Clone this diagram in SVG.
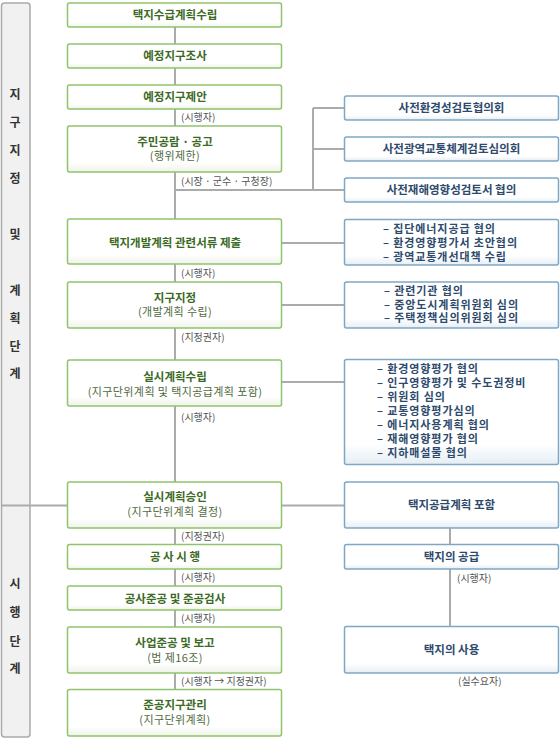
<svg xmlns="http://www.w3.org/2000/svg" width="560" height="740" viewBox="0 0 560 740">
<defs>
<linearGradient id="gg" x1="0" y1="0" x2="0" y2="1"><stop offset="0" stop-color="#ffffff"/><stop offset="0.8" stop-color="#ffffff"/><stop offset="1" stop-color="#eef3e8"/></linearGradient>
<linearGradient id="bg" x1="0" y1="0" x2="0" y2="1"><stop offset="0" stop-color="#ffffff"/><stop offset="0.8" stop-color="#ffffff"/><stop offset="1" stop-color="#e6eef4"/></linearGradient>
</defs>
<style>
text{font-family:"Noto Sans CJK KR","Noto Sans",sans-serif}
.gb{fill:url(#gg);stroke:#91c36c;stroke-width:1.5}
.bb{fill:url(#bg);stroke:#7fa7c3;stroke-width:1.5}
.gt{fill:#3b6a24;font-size:11.5px;font-weight:bold;text-anchor:middle}
.gs{fill:#4f6a40;font-size:11px;letter-spacing:0.4px;text-anchor:middle}
.bt{fill:#2d4a6c;font-size:11.5px;font-weight:bold;text-anchor:middle}
.bl{fill:#2d4a6c;font-size:11px;font-weight:bold;letter-spacing:0.9px}
.lb{fill:#555;font-size:10px}
.side{fill:#333;font-size:12px;font-weight:bold;text-anchor:middle}
.cn{fill:none;stroke:#ababab;stroke-width:2}
</style>
<g id="band">
<rect x="1.5" y="3" width="28.5" height="734" rx="3" fill="#f1f1f1" stroke="#aaaaaa" stroke-width="1.5"/>
<text class="side" x="15" y="99">지</text>
<text class="side" x="15" y="127">구</text>
<text class="side" x="15" y="155">지</text>
<text class="side" x="15" y="183">정</text>
<text class="side" x="15" y="239">및</text>
<text class="side" x="15" y="295">계</text>
<text class="side" x="15" y="323">획</text>
<text class="side" x="15" y="351">단</text>
<text class="side" x="15" y="378">계</text>
<text class="side" x="15" y="588">시</text>
<text class="side" x="15" y="617">행</text>
<text class="side" x="15" y="646">단</text>
<text class="side" x="15" y="673">계</text>
</g>
<g id="connectors">
<path class="cn" d="M175 27V689"/>
<path class="cn" d="M175 190H344M313 108V190M313 108H344M313 149H344"/>
<path class="cn" d="M281 243H344M281 305H344M281 382H344M281 505.5H344M1 505.5H67"/>
<path class="cn" d="M450 528V544M450 569V626"/>
</g>
<g id="n1"><rect class="gb" x="67.5" y="3" width="214" height="24" rx="2"/><text class="gt" x="175" y="19">택지수급계획수립</text></g>
<g id="n2"><rect class="gb" x="67.5" y="44" width="214" height="24" rx="2"/><text class="gt" x="175" y="60">예정지구조사</text></g>
<g id="n3"><rect class="gb" x="67.5" y="85" width="214" height="24" rx="2"/><text class="gt" x="175" y="101">예정지구제안</text></g>
<text class="lb" x="181" y="121">(시행자)</text>
<g id="n4"><rect class="gb" x="67.5" y="126" width="214" height="46" rx="2"/><text class="gt" x="175" y="146">주민공람 · 공고</text><text class="gs" x="175" y="160">(행위제한)</text></g>
<text class="lb" x="181" y="185">(시장 · 군수 · 구청장)</text>
<g id="n5"><rect class="gb" x="67.5" y="219" width="214" height="45" rx="2"/><text class="gt" x="175" y="247">택지개발계획 관련서류 제출</text></g>
<text class="lb" x="181" y="277">(시행자)</text>
<g id="n6"><rect class="gb" x="67.5" y="282" width="214" height="46" rx="2"/><text class="gt" x="175" y="302">지구지정</text><text class="gs" x="175" y="316">(개발계획 수립)</text></g>
<text class="lb" x="181" y="341">(지정권자)</text>
<g id="n7"><rect class="gb" x="67.5" y="360" width="214" height="46" rx="2"/><text class="gt" x="175" y="381">실시계획수립</text><text class="gs" x="175" y="396">(지구단위계획 및 택지공급계획 포함)</text></g>
<text class="lb" x="181" y="421">(시행자)</text>
<g id="n8"><rect class="gb" x="67.5" y="482" width="214" height="46" rx="2"/><text class="gt" x="175" y="501">실시계획승인</text><text class="gs" x="175" y="516">(지구단위계획 결정)</text></g>
<text class="lb" x="181" y="540">(지정권자)</text>
<g id="n9"><rect class="gb" x="67.5" y="544.5" width="214" height="24.5" rx="2"/><text class="gt" x="175" y="561">공 사 시 행</text></g>
<text class="lb" x="181" y="581">(시행자)</text>
<g id="n10"><rect class="gb" x="67.5" y="586" width="214" height="24" rx="2"/><text class="gt" x="175" y="603">공사준공 및 준공검사</text></g>
<text class="lb" x="181" y="622">(시행자)</text>
<g id="n11"><rect class="gb" x="67.5" y="627" width="214" height="46" rx="2"/><text class="gt" x="175" y="647">사업준공 및 보고</text><text class="gs" x="175" y="662">(법 제16조)</text></g>
<text class="lb" x="181" y="685">(시행자 → 지정권자)</text>
<g id="n12"><rect class="gb" x="67.5" y="689.5" width="214" height="46.5" rx="2"/><text class="gt" x="175" y="709">준공지구관리</text><text class="gs" x="175" y="724">(지구단위계획)</text></g>
<g id="r1"><rect class="bb" x="344.5" y="96" width="214" height="24" rx="2"/><text class="bt" x="451.5" y="112">사전환경성검토협의회</text></g>
<g id="r2"><rect class="bb" x="344.5" y="137" width="214" height="24" rx="2"/><text class="bt" x="451.5" y="153">사전광역교통체계검토심의회</text></g>
<g id="r3"><rect class="bb" x="344.5" y="178" width="214" height="24" rx="2"/><text class="bt" x="451.5" y="194">사전재해영향성검토서 협의</text></g>
<g id="r4"><rect class="bb" x="344.5" y="219.5" width="214" height="45.5" rx="2"/>
<text class="bl" x="383" y="233">– 집단에너지공급 협의</text>
<text class="bl" x="383" y="247">– 환경영향평가서 초안협의</text>
<text class="bl" x="383" y="261">– 광역교통개선대책 수립</text></g>
<g id="r5"><rect class="bb" x="344.5" y="282" width="214" height="46" rx="2"/>
<text class="bl" x="384" y="295">– 관련기관 협의</text>
<text class="bl" x="384" y="309">– 중앙도시계획위원회 심의</text>
<text class="bl" x="384" y="322">– 주택정책심의위원회 심의</text></g>
<g id="r6"><rect class="bb" x="344.5" y="359.5" width="214" height="105" rx="2"/>
<text class="bl" x="377" y="373">– 환경영향평가 협의</text>
<text class="bl" x="377" y="387">– 인구영향평가 및 수도권정비</text>
<text class="bl" x="377" y="401">– 위원회 심의</text>
<text class="bl" x="377" y="415">– 교통영향평가심의</text>
<text class="bl" x="377" y="429">– 에너지사용계획 협의</text>
<text class="bl" x="377" y="443">– 재해영향평가 협의</text>
<text class="bl" x="377" y="457">– 지하매설물 협의</text></g>
<g id="r7"><rect class="bb" x="344.5" y="482" width="214" height="46" rx="2"/><text class="bt" x="451.5" y="509">택지공급계획 포함</text></g>
<g id="r8"><rect class="bb" x="344.5" y="544.5" width="214" height="24.5" rx="2"/><text class="bt" x="451.5" y="561">택지의 공급</text></g>
<text class="lb" x="457" y="582">(시행자)</text>
<g id="r9"><rect class="bb" x="344.5" y="626.5" width="214" height="46.5" rx="2"/><text class="bt" x="451.5" y="654">택지의 사용</text></g>
<text class="lb" x="458" y="685">(실수요자)</text>
</svg>
